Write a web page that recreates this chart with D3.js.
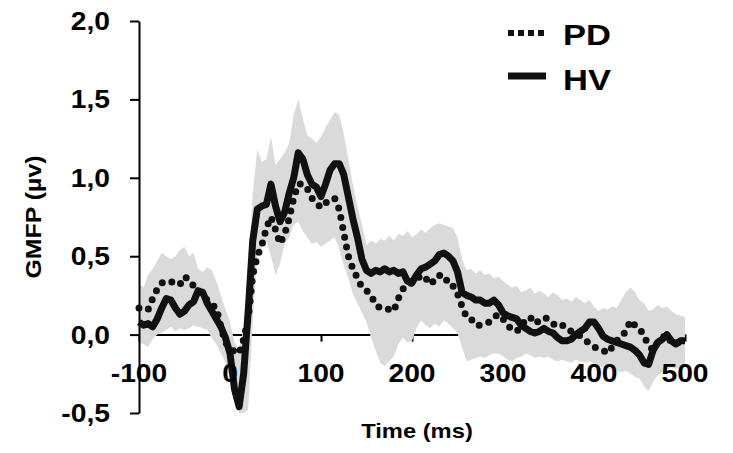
<!DOCTYPE html>
<meta charset="utf-8">
<style>
body { margin: 0; background: #fff; }
text { font-family: "Liberation Sans", Arial, sans-serif; font-weight: bold; fill: #000; }
</style>
<svg width="733" height="453"></svg>
<script src="https://d3js.org/d3.v7.min.js"></script>
<script>

// sample grid, ms
var times = d3.range(-100, 505, 5);

// HV mean GMFP (solid line)
var hv = [0.08,0.06,0.07,0.05,0.10,0.17,0.23,0.22,0.17,0.13,
          0.15,0.19,0.21,0.28,0.27,0.20,0.15,0.10,0.05,-0.02,
          -0.12,-0.35,-0.46,-0.25,0.15,0.60,0.80,0.82,0.83,0.96,
          0.82,0.72,0.78,0.90,1.00,1.16,1.12,1.02,0.96,0.94,
          0.88,0.96,1.05,1.09,1.09,1.02,0.88,0.74,0.62,0.48,
          0.41,0.39,0.41,0.40,0.42,0.40,0.41,0.39,0.40,0.34,
          0.33,0.38,0.42,0.43,0.45,0.47,0.51,0.52,0.50,0.47,
          0.40,0.27,0.25,0.24,0.22,0.22,0.20,0.20,0.22,0.19,
          0.14,0.12,0.11,0.10,0.06,0.04,0.02,0.01,0.02,0.04,
          0.02,0.01,-0.02,-0.04,-0.04,-0.03,0.00,0.02,0.04,0.08,
          0.08,0.04,-0.01,-0.03,-0.04,-0.05,-0.06,-0.07,-0.08,-0.10,
          -0.13,-0.18,-0.19,-0.10,-0.05,-0.03,0.00,-0.04,-0.06,-0.04,
          -0.04];

// PD mean GMFP (dotted line)
var pd = [0.17,0.16,0.16,0.23,0.29,0.33,0.34,0.34,0.32,0.32,
          0.37,0.35,0.31,0.28,0.25,0.22,0.19,0.17,0.05,-0.05,
          -0.08,-0.11,-0.12,-0.03,0.10,0.38,0.50,0.57,0.68,0.75,
          0.67,0.58,0.64,0.74,0.87,0.96,0.96,0.93,0.87,0.84,
          0.81,0.84,0.86,0.87,0.80,0.65,0.50,0.42,0.36,0.30,
          0.28,0.25,0.19,0.17,0.17,0.16,0.15,0.23,0.29,0.32,
          0.33,0.35,0.38,0.36,0.32,0.35,0.38,0.34,0.35,0.31,
          0.26,0.18,0.11,0.10,0.06,0.06,0.07,0.08,0.11,0.13,
          0.10,0.06,0.03,0.02,0.05,0.10,0.11,0.07,0.09,0.11,
          0.10,0.07,0.05,0.06,0.05,0.02,0.01,-0.01,-0.03,-0.06,
          -0.08,-0.09,-0.10,-0.12,-0.08,-0.04,-0.01,0.02,0.09,0.06,
          0.04,-0.01,-0.07,-0.10,-0.05,-0.02,0.00,-0.05,-0.06,-0.04,
          -0.03];

// grey error band, upper and lower edge
var bandHi = [0.33,0.30,0.38,0.42,0.47,0.52,0.50,0.48,0.50,0.54,
              0.56,0.50,0.52,0.42,0.40,0.43,0.41,0.34,0.25,0.16,
              0.08,-0.05,-0.10,0.05,0.35,0.90,1.18,1.10,1.12,1.26,
              1.08,1.12,1.16,1.22,1.40,1.50,1.38,1.27,1.25,1.22,
              1.26,1.32,1.37,1.42,1.40,1.28,1.12,0.96,0.82,0.70,
              0.57,0.60,0.58,0.61,0.60,0.63,0.60,0.64,0.63,0.66,
              0.62,0.64,0.67,0.65,0.68,0.70,0.71,0.70,0.69,0.68,
              0.62,0.48,0.41,0.42,0.39,0.41,0.38,0.39,0.36,0.37,
              0.34,0.32,0.30,0.31,0.27,0.28,0.30,0.26,0.28,0.26,
              0.24,0.27,0.25,0.22,0.23,0.21,0.24,0.22,0.20,0.22,
              0.18,0.15,0.17,0.16,0.18,0.17,0.22,0.27,0.30,0.27,
              0.22,0.20,0.15,0.16,0.19,0.17,0.18,0.15,0.13,0.12,
              0.11];
var bandLo = [-0.05,-0.06,-0.08,-0.03,0.00,0.01,0.03,0.05,0.02,0.04,
              0.03,0.04,0.06,0.05,0.04,0.03,-0.02,-0.06,-0.12,-0.18,
              -0.28,-0.42,-0.50,-0.50,-0.48,0.10,0.50,0.56,0.60,0.50,
              0.38,0.45,0.58,0.62,0.70,0.72,0.66,0.62,0.58,0.59,
              0.56,0.58,0.60,0.62,0.55,0.44,0.36,0.26,0.20,0.14,
              0.08,-0.02,-0.10,-0.18,-0.20,-0.17,-0.14,-0.06,-0.02,-0.05,
              -0.04,0.04,0.09,0.06,0.04,0.07,0.05,0.09,0.07,0.04,
              0.01,-0.08,-0.17,-0.16,-0.15,-0.14,-0.15,-0.13,-0.12,-0.12,
              -0.14,-0.16,-0.17,-0.15,-0.14,-0.12,-0.13,-0.15,-0.14,-0.15,
              -0.14,-0.16,-0.17,-0.16,-0.17,-0.18,-0.16,-0.17,-0.18,-0.17,
              -0.19,-0.20,-0.21,-0.22,-0.22,-0.23,-0.24,-0.23,-0.25,-0.27,
              -0.28,-0.33,-0.36,-0.30,-0.26,-0.24,-0.22,-0.21,-0.22,-0.21,
              -0.21];

var xTicks = [-100, 0, 100, 200, 300, 400, 500];
var yTicks = [-0.5, 0, 0.5, 1.0, 1.5, 2.0];
var seriesNames = ["PD", "HV"];

var svg = d3.select("svg");

var x = d3.scaleLinear().domain([-100, 500]).range([139, 685]);
var y = d3.scaleLinear().domain([-0.5, 2.0]).range([413, 21]);

var rows = times.map(function(t, i) {
  return { t: t, hv: hv[i], pd: pd[i], hi: bandHi[i], lo: bandLo[i] };
});

// x axis sits at y = 0, under the band
var xAxis = svg.append("g")
    .attr("transform", "translate(0," + y(0) + ")")
    .call(d3.axisBottom(x).tickValues(xTicks).tickSize(7).tickSizeOuter(0).tickFormat(function(d) { return ""; }));
xAxis.selectAll("path, line").attr("stroke", "#000").attr("stroke-width", 2);

svg.append("path")
    .datum(rows)
    .attr("fill", "#dadada")
    .attr("d", d3.area()
        .x(function(d) { return x(d.t); })
        .y0(function(d) { return y(d.lo); })
        .y1(function(d) { return y(d.hi); }));

var yAxis = svg.append("g")
    .attr("transform", "translate(" + x(-100) + ",0)")
    .call(d3.axisLeft(y).tickValues(yTicks).tickSize(9).tickSizeOuter(0).tickFormat(function(d) { return ""; }));
yAxis.selectAll("path, line").attr("stroke", "#000").attr("stroke-width", 2);

var line = function(key) {
  return d3.line()
      .x(function(d) { return x(d.t); })
      .y(function(d) { return y(d[key]); });
};

svg.append("path")
    .datum(rows)
    .attr("fill", "none")
    .attr("stroke", "#111")
    .attr("stroke-width", 7)
    .attr("stroke-linejoin", "round")
    .attr("d", line("hv"));

svg.append("path")
    .datum(rows)
    .attr("fill", "none")
    .attr("stroke", "#111")
    .attr("stroke-width", 7)
    .attr("stroke-linecap", "round")
    .attr("stroke-dasharray", "0,10")
    .attr("d", line("pd"));

// tick labels, a bit wider than plain Arial in the original
var sx = 1.13;
yTicks.forEach(function(v) {
  svg.append("text")
      .attr("text-anchor", "end")
      .attr("font-size", 25)
      .attr("transform", "translate(110," + (y(v) + 9) + ") scale(" + sx + ",1)")
      .text(v.toFixed(1).replace(".", ","));
});
xTicks.forEach(function(t) {
  svg.append("text")
      .attr("text-anchor", "middle")
      .attr("font-size", 25)
      .attr("transform", "translate(" + x(t) + ",382) scale(" + sx + ",1)")
      .text(String(t));
});

svg.append("text")
    .attr("text-anchor", "middle")
    .attr("font-size", 21)
    .attr("transform", "translate(417,438) scale(1.13,1)")
    .text("Time (ms)");

svg.append("text")
    .attr("text-anchor", "middle")
    .attr("font-size", 22)
    .attr("transform", "translate(41,217) rotate(-90) scale(1.13,1)")
    .text("GMFP (µv)");

// legend
var legend = svg.append("g");
legend.append("line")
    .attr("x1", 508).attr("x2", 546).attr("y1", 33).attr("y2", 33)
    .attr("stroke", "#111").attr("stroke-width", 6).attr("stroke-dasharray", "6,4");
legend.append("line")
    .attr("x1", 508).attr("x2", 546).attr("y1", 76).attr("y2", 76)
    .attr("stroke", "#111").attr("stroke-width", 7);
legend.selectAll("text.lab")
    .data(seriesNames)
    .enter().append("text")
    .attr("class", "lab")
    .attr("font-size", 30)
    .attr("transform", function(d, i) { return "translate(563," + (45 + i * 45) + ") scale(1.15,1)"; })
    .text(function(d) { return d; });

</script>
